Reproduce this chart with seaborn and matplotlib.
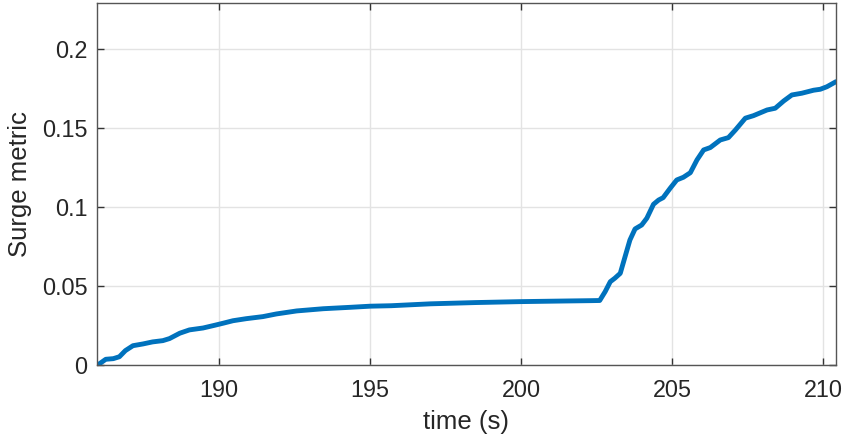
import matplotlib
matplotlib.use("Agg")
import matplotlib.pyplot as plt
import seaborn as sns
import pandas as pd

# Surge metric time history
time_s = [186.0, 186.25, 186.5, 186.7, 186.9, 187.15, 187.48, 187.8, 188.14, 188.36,
          188.7, 189.02, 189.47, 189.85, 190.13, 190.46, 190.9, 191.45, 191.9, 192.57,
          193.45, 194.35, 195.0, 195.7, 197.0, 198.5, 200.0, 201.5, 202.3, 202.6,
          202.78, 202.95, 203.1, 203.28, 203.44, 203.6, 203.77, 203.99, 204.16, 204.38,
          204.55, 204.7, 204.93, 205.15, 205.37, 205.6, 205.82, 206.04, 206.26, 206.59,
          206.86, 207.09, 207.42, 207.69, 208.14, 208.41, 208.69, 208.96, 209.29, 209.68,
          209.9, 210.12, 210.42]
surge = [0.0, 0.0034, 0.0038, 0.005, 0.0089, 0.012, 0.0131, 0.0144, 0.0152, 0.0165,
         0.0199, 0.022, 0.0232, 0.0249, 0.0262, 0.0278, 0.0291, 0.0304, 0.0321, 0.034,
         0.0354, 0.0363, 0.037, 0.0373, 0.0385, 0.0393, 0.0399, 0.0403, 0.0405, 0.0406,
         0.0462, 0.0525, 0.0547, 0.0578, 0.0684, 0.0789, 0.0859, 0.0884, 0.0927, 0.1015,
         0.1042, 0.1057, 0.1116, 0.1169, 0.1186, 0.1215, 0.1296, 0.1359, 0.1374, 0.1422,
         0.1437, 0.1485, 0.156, 0.1576, 0.1612, 0.1623, 0.1669, 0.1707, 0.1718, 0.1737,
         0.1743, 0.1759, 0.1791]

x_ticks = [190, 195, 200, 205, 210]
y_ticks = [0, 0.05, 0.1, 0.15, 0.2]
y_tick_labels = ["0", "0.05", "0.1", "0.15", "0.2"]

df = pd.DataFrame({"time": time_s, "surge": surge})

sns.set_theme(style="whitegrid")
plt.rcParams["font.family"] = ["Liberation Sans", "DejaVu Sans"]

fig = plt.figure(figsize=(8.45, 4.42), dpi=100)
ax = fig.add_axes([0.1148, 0.175, 0.8745, 0.8182])

sns.lineplot(data=df, x="time", y="surge", ax=ax, color="#0072BD",
             linewidth=3.5, solid_joinstyle="round", solid_capstyle="round",
             estimator=None, sort=False)

ax.set_xlim(185.96, 210.42)
ax.set_ylim(0, 0.2289)
ax.set_xticks(x_ticks)
ax.set_yticks(y_ticks)
ax.set_yticklabels(y_tick_labels)

ax.set_xlabel("time (s)", fontsize=18.5, color="#262626", labelpad=6)
ax.set_ylabel("Surge metric", fontsize=18.5, color="#262626", labelpad=7)

ax.grid(True, color="#e3e3e3", linewidth=1.0)
ax.set_facecolor("white")
for side in ["left", "right", "top", "bottom"]:
    ax.spines[side].set_visible(True)
    ax.spines[side].set_color("#555555")
    ax.spines[side].set_linewidth(1.0)

ax.tick_params(axis="both", which="major", direction="in", length=5, width=1.0,
               color="#333333", labelsize=16.8, labelcolor="#262626",
               top=True, right=True, bottom=True, left=True)
ax.tick_params(axis="x", pad=10)
ax.tick_params(axis="y", pad=7)

fig.savefig("out.png", dpi=100, facecolor="white")
